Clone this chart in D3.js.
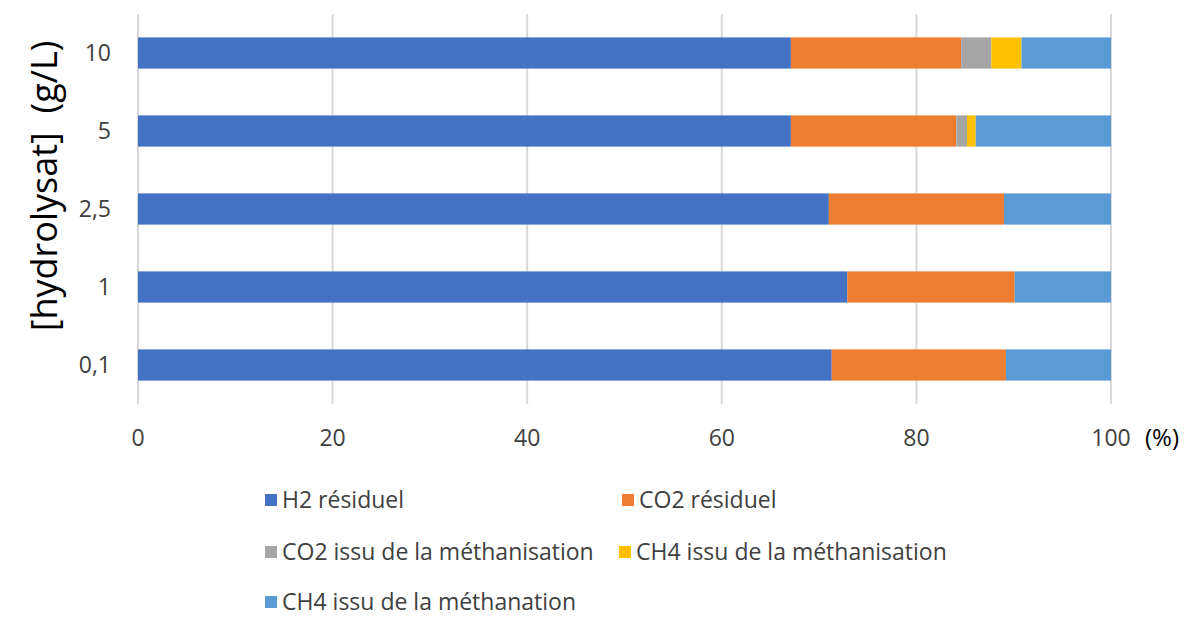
<!DOCTYPE html>
<html>
<head>
<meta charset="utf-8">
<script src="https://cdn.jsdelivr.net/npm/d3@7"></script>
<style>
  body { margin: 0; background: #fff; }
  svg { display: block; }
</style>
</head>
<body>
<script>
// categories (top to bottom) and series values in %
const categories = ["10", "5", "2,5", "1", "0,1"];
const seriesNames = [
  "H2 résiduel",
  "CO2 résiduel",
  "CO2 issu de la méthanisation",
  "CH4 issu de la méthanisation",
  "CH4 issu de la méthanation"
];
const h2Residuel = [67.1, 67.1, 71.0, 72.9, 71.3];
const co2Residuel = [17.5, 17.0, 18.0, 17.2, 17.9];
const co2Methanisation = [3.1, 1.1, 0, 0, 0];
const ch4Methanisation = [3.1, 0.9, 0, 0, 0];
const ch4Methanation = [9.2, 13.9, 11.0, 9.9, 10.8];
const xTicks = [0, 20, 40, 60, 80, 100];
const colors = ["#4472C4", "#ED7D31", "#A5A5A5", "#FFC000", "#5B9BD5"];

const width = 1188, height = 617;
const font = "'Open Sans', 'Noto Sans', sans-serif";

const rows = categories.map((c, i) => ({
  cat: c,
  [seriesNames[0]]: h2Residuel[i],
  [seriesNames[1]]: co2Residuel[i],
  [seriesNames[2]]: co2Methanisation[i],
  [seriesNames[3]]: ch4Methanisation[i],
  [seriesNames[4]]: ch4Methanation[i]
}));

const x = d3.scaleLinear().domain([0, 100]).range([138, 1111]);
const y = d3.scaleBand().domain(categories).range([14, 404]).paddingInner(0.6).paddingOuter(0.3);
const color = d3.scaleOrdinal(seriesNames, colors);

const stack = d3.stack().keys(seriesNames)(rows);

const svg = d3.select("body").append("svg")
  .attr("width", width)
  .attr("height", height)
  .attr("font-family", font);

// gridlines
svg.append("g")
  .selectAll("line")
  .data(xTicks)
  .join("line")
  .attr("x1", d => x(d)).attr("x2", d => x(d))
  .attr("y1", 14).attr("y2", 404)
  .attr("stroke", "#d9d9d9")
  .attr("stroke-width", 2);

// bars
svg.append("g")
  .selectAll("g")
  .data(stack)
  .join("g")
  .attr("fill", d => color(d.key))
  .selectAll("rect")
  .data(d => d)
  .join("rect")
  .attr("x", d => x(d[0]))
  .attr("width", d => x(d[1]) - x(d[0]))
  .attr("y", d => y(d.data.cat))
  .attr("height", y.bandwidth());

// y labels
svg.append("g")
  .selectAll("text")
  .data(categories)
  .join("text")
  .attr("x", 111)
  .attr("y", d => y(d) + y.bandwidth() / 2)
  .attr("dy", "0.35em")
  .attr("text-anchor", "end")
  .attr("font-size", 23)
  .attr("fill", "#404040")
  .text(d => d);

// x labels
svg.append("g")
  .selectAll("text")
  .data(xTicks)
  .join("text")
  .attr("x", d => x(d))
  .attr("y", 438)
  .attr("dy", "0.35em")
  .attr("text-anchor", "middle")
  .attr("font-size", 23)
  .attr("fill", "#404040")
  .text(d => d);

svg.append("text")
  .attr("x", 1145)
  .attr("y", 438)
  .attr("dy", "0.35em")
  .attr("font-size", 24)
  .attr("fill", "#000")
  .text("(%)");

// y title
svg.append("text")
  .attr("transform", "translate(44,186) rotate(-90)")
  .attr("text-anchor", "middle")
  .attr("dy", "0.35em")
  .attr("font-size", 36)
  .attr("fill", "#000")
  .style("white-space", "pre")
  .text("[hydrolysat]  (g/L)");

// legend
const legendPos = [[265, 500], [622, 500], [265, 552], [619, 552], [265, 602]];
const legend = svg.append("g")
  .selectAll("g")
  .data(seriesNames)
  .join("g")
  .attr("transform", (d, i) => `translate(${legendPos[i][0]},${legendPos[i][1]})`);

legend.append("rect")
  .attr("x", 0).attr("y", -6)
  .attr("width", 12).attr("height", 12)
  .attr("fill", d => color(d));

legend.append("text")
  .attr("x", 17)
  .attr("dy", "0.35em")
  .attr("font-size", 23)
  .attr("fill", "#404040")
  .text(d => d);
</script>
</body>
</html>
